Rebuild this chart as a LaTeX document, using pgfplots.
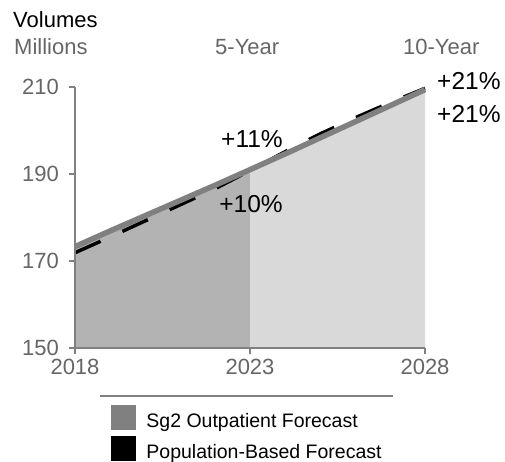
\documentclass[border=0pt]{standalone}
\usepackage{fontspec}
\setmainfont{Liberation Sans}
\usepackage{pgfplots}
\pgfplotsset{compat=1.18}
\definecolor{lineg}{HTML}{808080}
\definecolor{darkf}{HTML}{B3B3B3}
\definecolor{lightf}{HTML}{D9D9D9}
\definecolor{txtg}{HTML}{666666}
\begin{document}
\begin{tikzpicture}[x=1pt,y=1pt]
\useasboundingbox (0,0) rectangle (505,462);
\begin{axis}[
  at={(75pt,114pt)}, anchor=south west,
  scale only axis, width=350pt, height=261pt,
  xmin=2018, xmax=2028, ymin=150, ymax=210,
  axis lines=left, axis line style={lineg, line width=1.5pt, -},
  xtick={2018,2023,2028}, ytick={150,170,190,210},
  tick align=outside, major tick length=6pt,
  tick style={lineg, line width=1.5pt},
  /pgf/number format/assume math mode=true,
  /pgf/number format/1000 sep={},
  xticklabel style={font=\fontsize{22}{24}\selectfont, text=txtg, inner sep=0pt, yshift=-5pt},
  yticklabel style={font=\fontsize{22}{24}\selectfont, text=txtg, inner sep=0pt, xshift=-10pt},
  clip=false, axis on top,
  legend style={at={(rel axis cs:0.1029,-0.2165)}, anchor=north west, draw=none, fill=none,
    inner sep=0pt, outer sep=0pt, font=\fontsize{19.5}{22}\selectfont,
    row sep=7pt, column sep=11pt, nodes={inner sep=0pt}},
  legend cell align=left,
]
\addplot[fill=darkf, draw=none, forget plot] coordinates {
  (2018,150) (2018,173.3) (2019,176.9) (2020,180.4) (2021,183.9) (2022,187.4) (2023,191.0) (2023,150)} -- cycle;
\addplot[fill=lightf, draw=none, forget plot] coordinates {
  (2023,150) (2023,191.0) (2024,194.6) (2025,198.3) (2026,202.0) (2027,205.7) (2028,209.4) (2028,150)} -- cycle;
\addplot[black, line width=3.5pt, dash pattern=on 28pt off 24pt, forget plot] coordinates {
  (2018,171.9) (2019,175.5) (2020,179.2) (2021,182.9) (2022,186.6) (2023,190.8) (2024,195.1) (2025,199.2) (2026,202.9) (2027,206.4) (2028,209.7)};
\addplot[lineg, line width=5.5pt, forget plot] coordinates {
  (2018,173.3) (2019,176.9) (2020,180.4) (2021,183.9) (2022,187.4) (2023,191.0) (2024,194.6) (2025,198.3) (2026,202.0) (2027,205.7) (2028,209.4)};
\addlegendimage{legend image code/.code={\fill[lineg] (0pt,-8pt) rectangle (24pt,16pt);}}
\addlegendentry{Sg2 Outpatient Forecast}
\addlegendimage{legend image code/.code={\fill[black] (0pt,-8pt) rectangle (24pt,16pt);}}
\addlegendentry{Population-Based Forecast}
\end{axis}
\draw[lineg, line width=1.5pt] (100,66) -- (393,66);
\node[anchor=base west, inner sep=0pt, font=\fontsize{22}{24}\selectfont] at (13,434) {Volumes};
\node[anchor=base west, inner sep=0pt, font=\fontsize{22}{24}\selectfont, text=txtg] at (14,407) {Millions};
\node[anchor=base west, inner sep=0pt, font=\fontsize{22}{24}\selectfont, text=txtg] at (215,407) {5-Year};
\node[anchor=base west, inner sep=0pt, font=\fontsize{22}{24}\selectfont, text=txtg] at (403,407) {10-Year};
\node[anchor=base west, inner sep=0pt, font=\fontsize{24.5}{26}\selectfont] at (437,372) {+21\%};
\node[anchor=base west, inner sep=0pt, font=\fontsize{24.5}{26}\selectfont] at (437,339) {+21\%};
\node[anchor=base, inner sep=0pt, font=\fontsize{24.5}{26}\selectfont] at (252,314) {+11\%};
\node[anchor=base, inner sep=0pt, font=\fontsize{24.5}{26}\selectfont] at (251,249) {+10\%};
\end{tikzpicture}
\end{document}
